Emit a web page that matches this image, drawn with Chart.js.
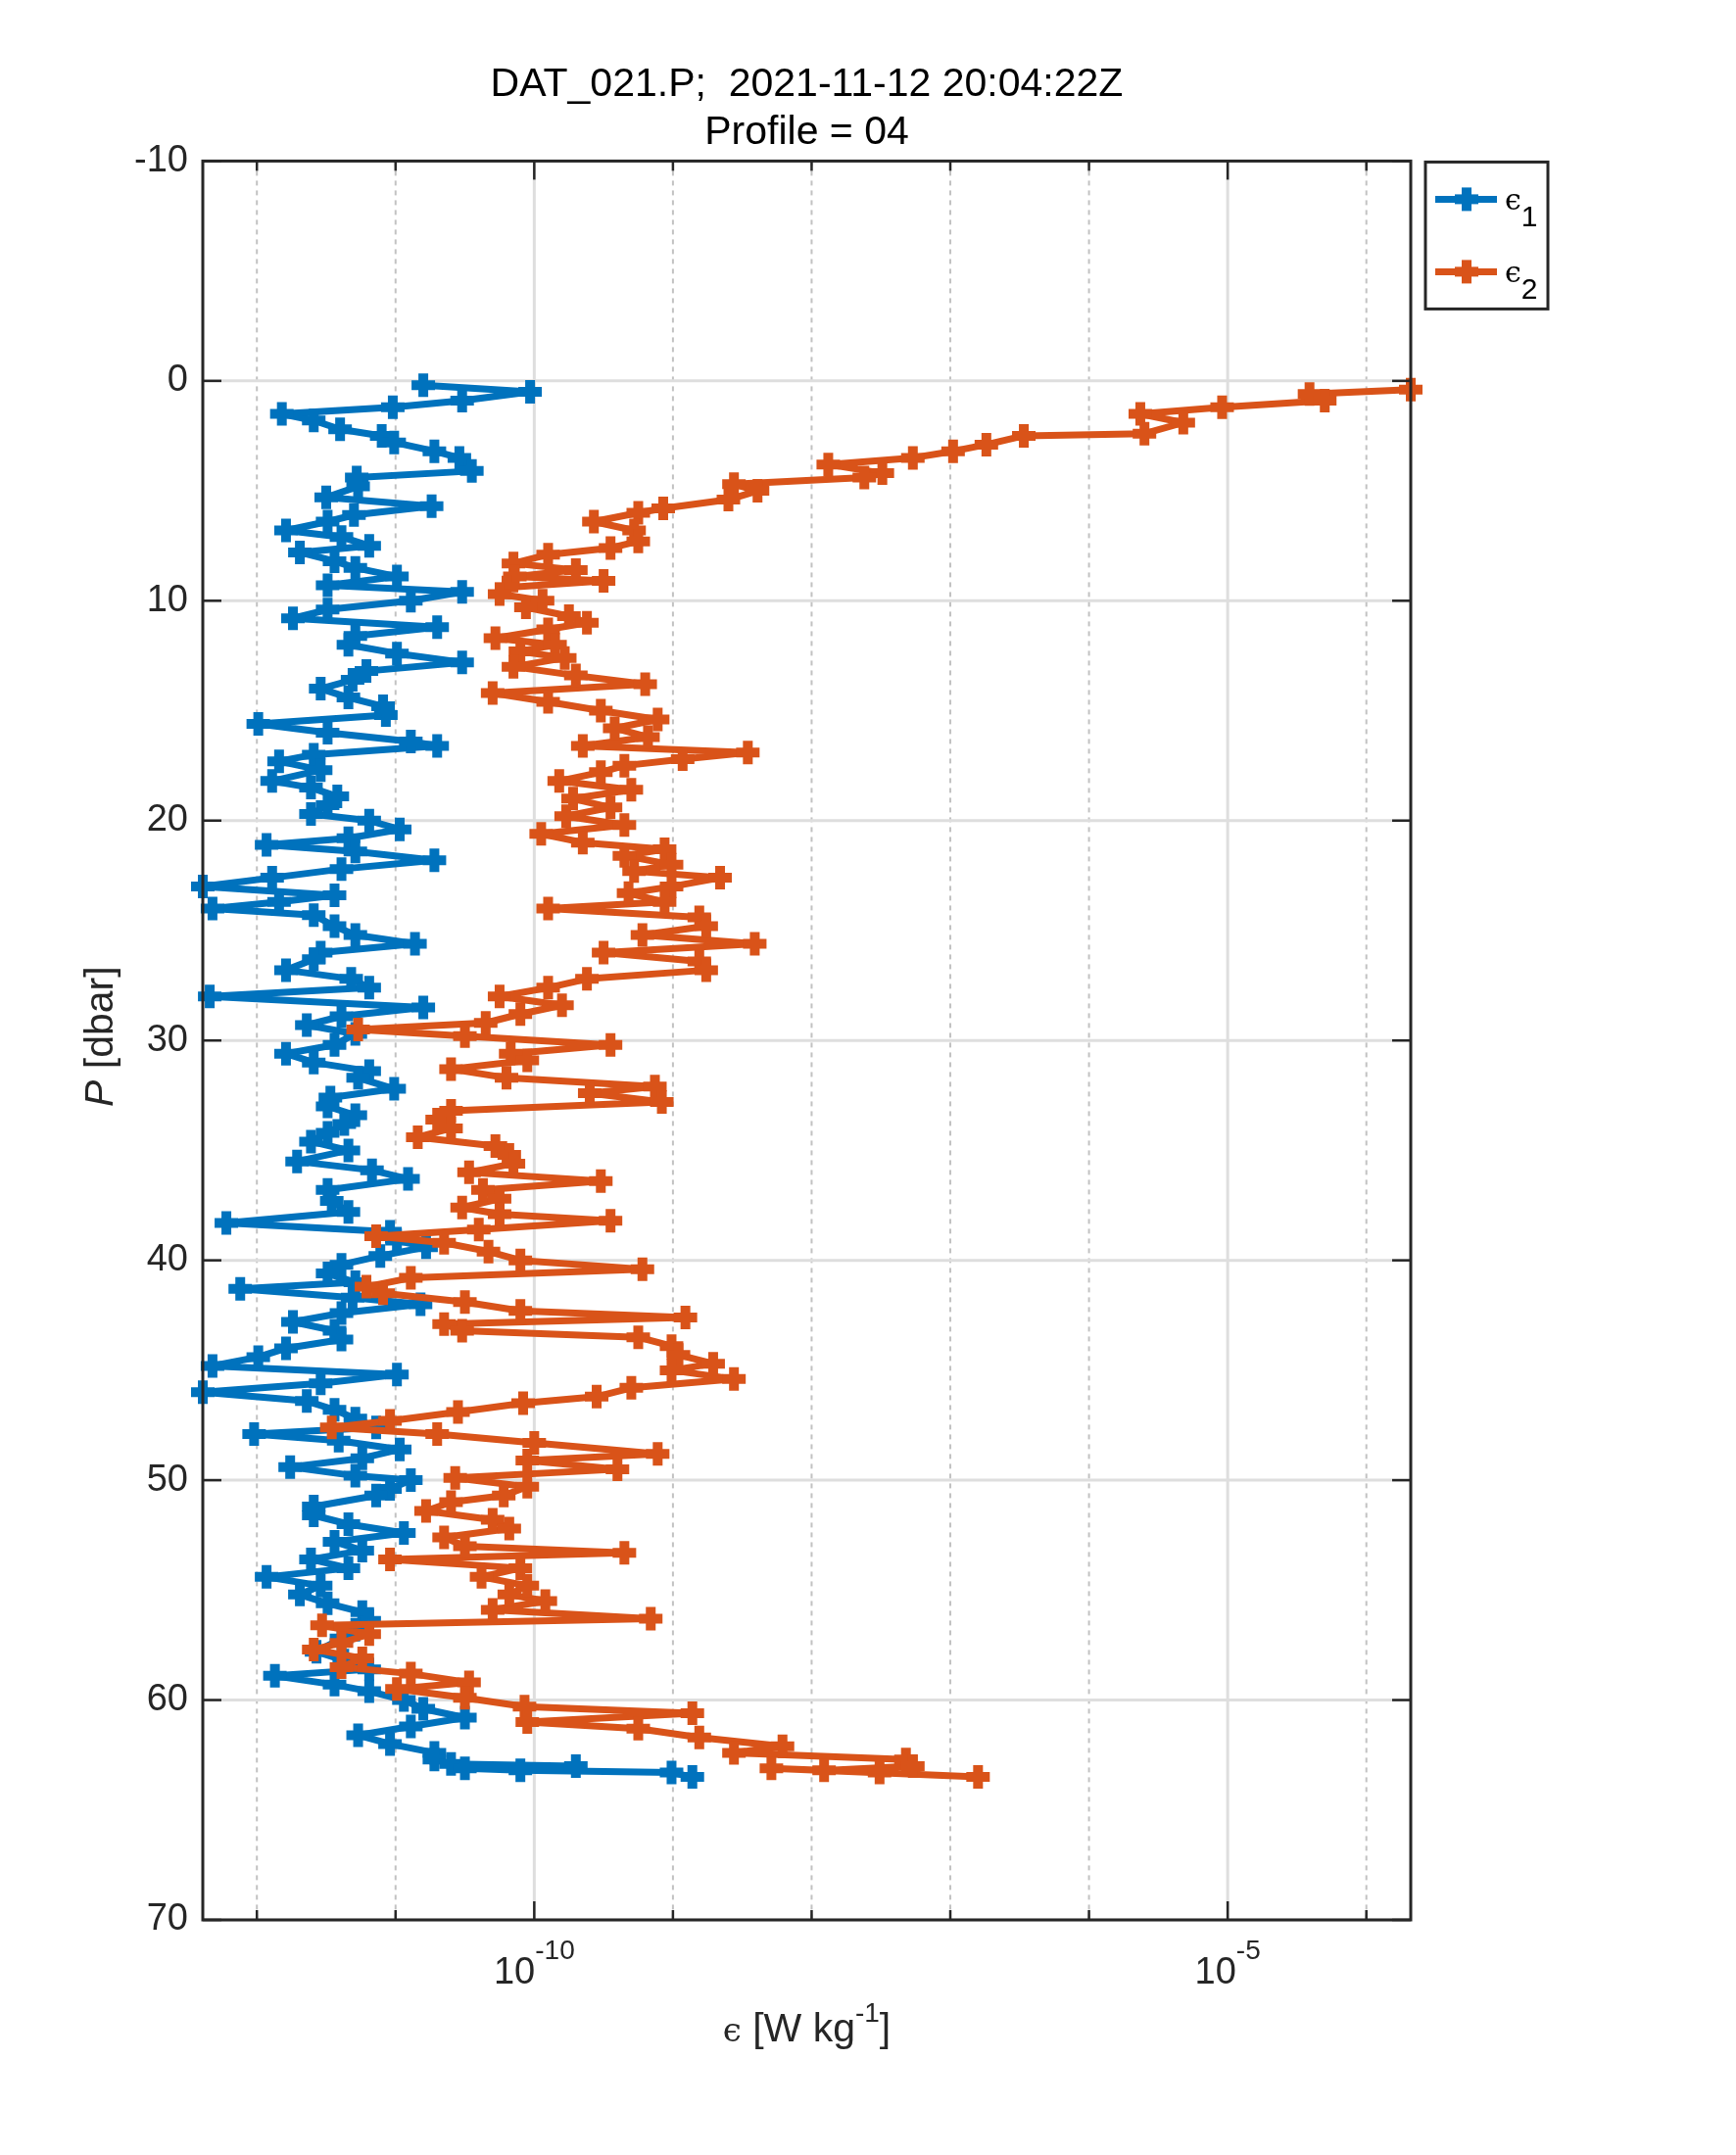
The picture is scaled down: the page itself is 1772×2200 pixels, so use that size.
<!DOCTYPE html>
<html>
<head>
<meta charset="utf-8">
<script src="https://cdn.jsdelivr.net/npm/chart.js@4.4.1/dist/chart.umd.min.js"></script>
<style>
  html, body { margin: 0; background: #fff; }
  #chart { display: block; }
</style>
</head>
<body>
<canvas id="chart" width="1772" height="2200"></canvas>
<script>
// Pressure [dbar] and log10(epsilon) for the two shear probes
const pres1 = [0.2, 0.5, 0.9, 1.2, 1.5, 1.8, 2.2, 2.5, 2.8, 3.2, 3.5, 4.1, 4.4, 4.8, 5.3, 5.7, 6.1, 6.4, 6.8, 7.1,
  7.5, 7.8, 8.2, 8.5, 8.9, 9.3, 9.6, 10.0, 10.4, 10.8, 11.2, 11.6, 12.0, 12.4, 12.8, 13.2, 13.6, 14.0, 14.4, 14.8,
  15.2, 15.6, 16.0, 16.4, 16.6, 17.0, 17.3, 17.7, 18.2, 18.5, 18.9, 19.3, 19.7, 20.0, 20.4, 20.8, 21.1, 21.4, 21.8, 22.2,
  22.6, 23.0, 23.4, 23.7, 24.0, 24.3, 24.8, 25.2, 25.6, 26.0, 26.3, 26.8, 27.2, 27.6, 28.0, 28.5, 28.9, 29.3, 29.7, 30.2,
  30.6, 31.0, 31.4, 31.7, 32.2, 32.6, 33.0, 33.4, 33.8, 34.2, 34.6, 35.0, 35.5, 35.9, 36.3, 36.8, 37.3, 37.8, 38.3, 38.7,
  39.1, 39.4, 39.8, 40.2, 40.6, 41.0, 41.3, 41.7, 42.0, 42.4, 42.8, 43.2, 43.6, 44.0, 44.4, 44.8, 45.2, 45.6, 46.0, 46.4,
  46.8, 47.2, 47.6, 47.9, 48.2, 48.6, 49.0, 49.4, 49.8, 50.0, 50.4, 50.7, 51.2, 51.6, 52.0, 52.4, 52.8, 53.2, 53.6, 54.0,
  54.4, 54.8, 55.2, 55.6, 56.0, 56.4, 56.8, 57.2, 57.8, 58.2, 58.6, 58.9, 59.3, 59.6, 60.0, 60.4, 60.8, 61.2, 61.6, 62.0,
  62.4, 62.7, 62.9, 63.0, 63.1, 63.2, 63.3, 63.5];
const eps1Log = [-10.80, -10.03, -10.52, -11.02, -11.82, -11.59, -11.40, -11.10, -11.01, -10.72, -10.54, -10.45, -11.28, -11.27, -11.50, -10.74, -11.30, -11.49, -11.79, -11.39,
  -11.19, -11.69, -11.44, -11.29, -10.99, -11.49, -10.52, -10.89, -11.49, -11.74, -10.70, -11.29, -11.34, -10.99, -10.52, -11.21, -11.31, -11.54, -11.34, -11.09,
  -11.07, -11.99, -11.49, -10.89, -10.70, -11.59, -11.84, -11.54, -11.89, -11.61, -11.42, -11.49, -11.61, -11.19, -10.97, -11.34, -11.93, -11.29, -10.72, -11.39,
  -11.89, -12.39, -11.44, -11.84, -12.32, -11.59, -11.44, -11.29, -10.86, -11.54, -11.59, -11.79, -11.32, -11.19, -12.34, -10.80, -11.39, -11.64, -11.29, -11.44,
  -11.79, -11.59, -11.19, -11.27, -11.01, -11.47, -11.49, -11.29, -11.37, -11.49, -11.61, -11.34, -11.71, -11.17, -10.91, -11.49, -11.46, -11.34, -12.22, -11.04,
  -10.99, -10.78, -11.11, -11.39, -11.49, -11.29, -12.12, -11.31, -10.82, -11.39, -11.74, -11.44, -11.39, -11.79, -11.99, -12.32, -10.99, -11.54, -12.39, -11.64,
  -11.44, -11.29, -11.14, -12.02, -11.41, -10.97, -11.24, -11.76, -11.29, -10.89, -11.04, -11.14, -11.59, -11.59, -11.34, -10.94, -11.44, -11.24, -11.61, -11.34,
  -11.93, -11.54, -11.69, -11.49, -11.24, -11.19, -11.29, -11.39, -11.57, -11.37, -11.19, -11.87, -11.44, -11.19, -10.94, -10.80, -10.50, -10.89, -11.27, -11.04,
  -10.72, -10.72, -10.60, -9.70, -10.50, -10.10, -9.01, -8.86];

const pres2 = [0.4, 0.6, 0.9, 1.2, 1.5, 1.9, 2.4, 2.5, 2.9, 3.2, 3.5, 3.8, 4.2, 4.4, 4.7, 5.0, 5.4, 5.8, 6.0, 6.4,
  6.8, 7.3, 7.6, 7.9, 8.3, 8.6, 8.9, 9.1, 9.4, 9.7, 10.0, 10.3, 10.7, 11.0, 11.3, 11.7, 12.0, 12.3, 12.6, 13.0,
  13.4, 13.8, 14.2, 14.6, 15.0, 15.4, 15.8, 16.2, 16.6, 16.9, 17.2, 17.5, 17.8, 18.2, 18.6, 19.0, 19.4, 19.8, 20.2, 20.6,
  21.0, 21.3, 21.6, 22.0, 22.3, 22.6, 23.0, 23.3, 23.7, 24.0, 24.4, 24.8, 25.2, 25.6, 26.0, 26.4, 26.8, 27.2, 27.6, 28.0,
  28.4, 28.8, 29.2, 29.5, 29.8, 30.2, 30.6, 30.9, 31.3, 31.7, 32.1, 32.4, 32.8, 33.2, 33.6, 34.0, 34.4, 34.8, 35.2, 35.6,
  36.0, 36.4, 36.8, 37.2, 37.6, 37.9, 38.2, 38.6, 38.9, 39.2, 39.6, 40.0, 40.4, 40.8, 41.2, 41.5, 41.9, 42.3, 42.6, 42.9,
  43.2, 43.5, 43.9, 44.3, 44.7, 45.0, 45.4, 45.8, 46.2, 46.5, 46.9, 47.3, 47.6, 47.9, 48.3, 48.8, 49.1, 49.5, 49.9, 50.3,
  50.7, 51.0, 51.4, 51.8, 52.2, 52.6, 53.0, 53.3, 53.6, 54.0, 54.4, 54.8, 55.2, 55.5, 55.9, 56.3, 56.6, 57.0, 57.4, 57.7,
  58.1, 58.5, 58.8, 59.2, 59.5, 59.9, 60.3, 60.6, 61.0, 61.3, 61.7, 62.1, 62.4, 62.7, 63.0, 63.2, 63.3, 63.1, 63.5];
const eps2Log = [-3.68, -4.41, -4.30, -5.04, -5.63, -5.32, -5.60, -6.47, -6.74, -6.98, -7.27, -7.88, -7.49, -7.62, -8.56, -8.39, -8.60, -9.07, -9.25, -9.57,
  -9.28, -9.25, -9.45, -9.90, -10.15, -9.70, -10.14, -9.50, -10.20, -10.25, -9.94, -10.06, -9.75, -9.62, -9.90, -10.28, -9.85, -10.10, -9.78, -10.15,
  -9.70, -9.20, -10.30, -9.90, -9.52, -9.11, -9.42, -9.18, -9.65, -8.46, -8.93, -9.35, -9.52, -9.82, -9.30, -9.72, -9.45, -9.77, -9.35, -9.95,
  -9.65, -9.06, -9.35, -9.01, -9.28, -8.66, -9.01, -9.32, -9.06, -9.90, -8.81, -8.76, -9.22, -8.41, -9.50, -8.81, -8.76, -9.62, -9.90, -10.25,
  -9.80, -10.10, -10.35, -11.27, -10.50, -9.45, -10.17, -10.05, -10.60, -10.20, -9.13, -9.60, -9.08, -10.60, -10.70, -10.60, -10.84, -10.28, -10.18, -10.15,
  -10.47, -9.52, -10.37, -10.25, -10.52, -10.25, -9.45, -10.40, -11.14, -10.65, -10.33, -10.10, -9.22, -10.89, -11.21, -11.09, -10.50, -10.10, -8.91, -10.65,
  -10.52, -9.25, -9.01, -8.96, -8.71, -9.01, -8.56, -9.30, -9.55, -10.08, -10.55, -11.04, -11.46, -10.70, -10.00, -9.11, -10.05, -9.40, -10.57, -10.05,
  -10.22, -10.60, -10.78, -10.30, -10.18, -10.65, -10.50, -9.35, -11.04, -10.10, -10.38, -10.05, -10.18, -9.92, -10.30, -9.16, -11.53, -11.19, -11.39, -11.59,
  -11.24, -11.39, -10.89, -10.47, -10.99, -10.50, -10.07, -8.86, -10.05, -9.25, -8.81, -8.21, -8.56, -7.32, -7.27, -7.91, -7.51, -8.29, -6.80];

// Axis limits and ticks
const xLimLog = [-12.39, -3.68];
const decades = [-12, -11, -10, -9, -8, -7, -6, -5, -4];
const labelDecades = [-10, -5];
const yTicks = [-10, 0, 10, 20, 30, 40, 50, 60, 70];

const titleLines = ['DAT_021.P;  2021-11-12 20:04:22Z', 'Profile = 04'];
const seriesNames = ['1', '2'];
const blue = '#0072BD';
const orange = '#D95319';
const axisColor = '#262626';
const FONT = "'Liberation Sans', Arial, Helvetica, 'DejaVu Sans', sans-serif";

function toPoints(pres, logs) {
  return pres.map((p, i) => ({ x: 10 ** logs[i], y: p }));
}

// Draw a row of text pieces (base + super/subscript) starting at x
function drawRuns(ctx, runs, x, y) {
  let cx = x;
  runs.forEach((r) => {
    ctx.font = r.font;
    ctx.fillText(r.text, cx, y + (r.dy || 0));
    cx += ctx.measureText(r.text).width;
  });
}

function runsWidth(ctx, runs) {
  return runs.reduce((w, r) => {
    ctx.font = r.font;
    return w + ctx.measureText(r.text).width;
  }, 0);
}

function seg(ctx, x1, y1, x2, y2) {
  ctx.beginPath();
  ctx.moveTo(x1, y1);
  ctx.lineTo(x2, y2);
  ctx.stroke();
}

function drawCross(ctx, x, y, r) {
  seg(ctx, x - r, y, x + r, y);
  seg(ctx, x, y - r, x, y + r);
}

const matlabAxes = {
  id: 'matlabAxes',
  beforeDatasetsDraw(chart) {
    const { ctx, chartArea: a, scales: { x, y } } = chart;
    ctx.save();
    // minor decade grid (dotted)
    ctx.strokeStyle = '#c2c2c2';
    ctx.lineWidth = 2;
    ctx.setLineDash([5, 5]);
    decades.forEach((d) => {
      if (labelDecades.includes(d)) return;
      const px = x.getPixelForValue(10 ** d);
      seg(ctx, px, a.top, px, a.bottom);
    });
    // major grid (solid, light)
    ctx.setLineDash([]);
    ctx.strokeStyle = '#dedede';
    ctx.lineWidth = 3;
    labelDecades.forEach((d) => {
      const px = x.getPixelForValue(10 ** d);
      seg(ctx, px, a.top, px, a.bottom);
    });
    yTicks.forEach((t) => {
      const py = y.getPixelForValue(t);
      seg(ctx, a.left, py, a.right, py);
    });
    ctx.restore();
  },
  afterDatasetsDraw(chart) {
    const { ctx, chartArea: a, scales: { x, y } } = chart;
    ctx.save();
    ctx.strokeStyle = axisColor;
    ctx.fillStyle = axisColor;
    ctx.lineWidth = 2.5;

    // inward ticks
    yTicks.forEach((t) => {
      const py = y.getPixelForValue(t);
      seg(ctx, a.left, py, a.left + 19, py);
      seg(ctx, a.right, py, a.right - 19, py);
    });
    decades.forEach((d) => {
      const px = x.getPixelForValue(10 ** d);
      const len = labelDecades.includes(d) ? 19 : 10;
      seg(ctx, px, a.bottom, px, a.bottom - len);
      seg(ctx, px, a.top, px, a.top + len);
    });

    // axes box
    ctx.lineWidth = 3;
    ctx.strokeRect(a.left, a.top, a.right - a.left, a.bottom - a.top);

    // x tick labels 10^n
    ctx.textBaseline = 'alphabetic';
    ctx.textAlign = 'left';
    labelDecades.forEach((d) => {
      const px = x.getPixelForValue(10 ** d);
      const runs = [
        { text: '10', font: `38px ${FONT}` },
        { text: String(d), font: `28px ${FONT}`, dy: -25 },
      ];
      drawRuns(ctx, runs, px - runsWidth(ctx, runs) / 2, a.bottom + 65);
    });

    // x axis label
    const xl = [
      { text: 'ϵ', font: `34px 'DejaVu Serif', serif` },
      { text: ' [W kg', font: `41px ${FONT}` },
      { text: '-1', font: `28px ${FONT}`, dy: -20 },
      { text: ']', font: `41px ${FONT}` },
    ];
    drawRuns(ctx, xl, (a.left + a.right) / 2 - runsWidth(ctx, xl) / 2, a.bottom + 124);

    // y axis label (rotated)
    const yl = [
      { text: 'P', font: `italic 41px ${FONT}` },
      { text: ' [dbar]', font: `41px ${FONT}` },
    ];
    ctx.save();
    ctx.translate(104, (a.top + a.bottom) / 2 - 4);
    ctx.rotate(-Math.PI / 2);
    ctx.textBaseline = 'middle';
    drawRuns(ctx, yl, -runsWidth(ctx, yl) / 2, 0);
    ctx.restore();

    // legend box outside the axes
    const lx = a.right + 15;
    const ly = a.top + 1;
    const lw = 125;
    const lh = 150;
    ctx.fillStyle = '#ffffff';
    ctx.fillRect(lx, ly, lw, lh);
    ctx.lineWidth = 3;
    ctx.strokeStyle = axisColor;
    ctx.strokeRect(lx, ly, lw, lh);
    [blue, orange].forEach((c, i) => {
      const cy = ly + 38 + i * 74;
      ctx.strokeStyle = c;
      ctx.lineWidth = 7;
      seg(ctx, lx + 10, cy, lx + 73, cy);
      ctx.lineWidth = 10;
      drawCross(ctx, lx + 42, cy, 12);
      ctx.fillStyle = '#000';
      ctx.textBaseline = 'alphabetic';
      drawRuns(ctx, [
        { text: 'ϵ', font: `30px 'DejaVu Serif', serif` },
        { text: seriesNames[i], font: `30px ${FONT}`, dy: 17 },
      ], lx + 81, cy + 11);
    });
    ctx.restore();
  },
};

const ctx = document.getElementById('chart');

const lineStyle = {
  showLine: true,
  borderWidth: 7,
  borderJoinStyle: 'round',
  borderCapStyle: 'round',
  pointStyle: 'cross',
  pointRadius: 12,
  pointBorderWidth: 10,
  clip: false,
};

new Chart(ctx, {
  type: 'scatter',
  data: {
    datasets: [
      {
        ...lineStyle,
        label: 'ε1',
        data: toPoints(pres1, eps1Log),
        borderColor: blue,
        backgroundColor: blue,
        pointBorderColor: blue,
        order: 2,
      },
      {
        ...lineStyle,
        label: 'ε2',
        data: toPoints(pres2, eps2Log),
        borderColor: orange,
        backgroundColor: orange,
        pointBorderColor: orange,
        order: 1,
      },
    ],
  },
  options: {
    responsive: false,
    devicePixelRatio: 1,
    animation: false,
    layout: { padding: { left: 0, right: 332, top: 0, bottom: 0 } },
    plugins: {
      legend: { display: false },
      tooltip: { enabled: false },
      title: {
        display: true,
        fullSize: false,
        text: titleLines,
        color: '#000',
        font: { family: FONT, size: 41, weight: 'normal', lineHeight: 1.2 },
        padding: { top: 62, bottom: 4 },
      },
    },
    scales: {
      x: {
        type: 'logarithmic',
        min: 10 ** xLimLog[0],
        max: 10 ** xLimLog[1],
        ticks: { display: false },
        grid: { display: false, drawTicks: false, drawOnChartArea: false },
        border: { display: false },
        afterFit: (s) => { s.height = 240; },
      },
      y: {
        type: 'linear',
        reverse: true,
        min: -10,
        max: 70,
        afterBuildTicks: (s) => { s.ticks = yTicks.map((v) => ({ value: v })); },
        ticks: {
          color: axisColor,
          padding: 15,
          font: { family: FONT, size: 38 },
          callback: (v) => String(v),
        },
        grid: { display: false, drawTicks: false, drawOnChartArea: false },
        border: { display: false },
        afterFit: (s) => { s.width = 207; },
      },
    },
  },
  plugins: [matlabAxes],
});
</script>
</body>
</html>
